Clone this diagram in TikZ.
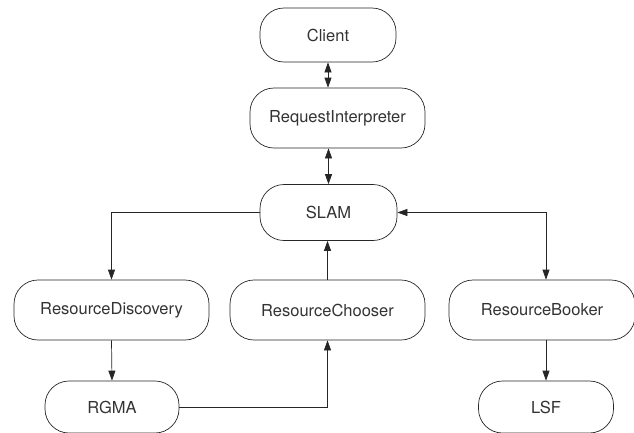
\documentclass[tikz,border=0pt]{standalone}
\usepackage{fontspec}
\setmainfont{TeX Gyre Heros}
\usetikzlibrary{arrows.meta}

\begin{document}
\begin{tikzpicture}[x=1pt, y=-1pt,
  box/.style={draw=black!85, line width=0.7pt, rounded corners=24pt, inner sep=0pt,
    minimum height=60pt, text=black!80, font=\fontsize{16.5}{19}\selectfont},
  link/.style={draw=black!85, line width=0.7pt, -{Triangle[length=10pt,width=7pt]}},
  both/.style={draw=black!85, line width=0.7pt, {Triangle[length=10pt,width=7pt]}-{Triangle[length=10pt,width=7pt]}}]
\useasboundingbox (0,0) rectangle (634,432);
\node[box, minimum width=136pt, minimum height=54pt] (client) at (328,35) {Client};
\node[box, minimum width=175pt] (ri) at (337.5,118) {RequestInterpreter};
\node[box, minimum width=137pt, minimum height=56pt] (slam) at (328.5,212.5) {SLAM};
\node[box, minimum width=195pt] (rd) at (111.5,310) {ResourceDiscovery};
\node[box, minimum width=195pt] (rc) at (327.5,310) {ResourceChooser};
\node[box, minimum width=186pt] (rb) at (542,310) {ResourceBooker};
\node[box, minimum width=134pt, minimum height=52pt] (rgma) at (112,407) {RGMA};
\node[box, minimum width=135pt, minimum height=52pt] (lsf) at (546,407) {LSF};
\draw[both] (client.south) -- (client.south |- ri.north);
\draw[both] (slam.north |- ri.south) -- (slam.north);
\draw[link] (slam.west) -| (rd.north);
\draw[link] (rd.south) -- (rgma.north);
\draw[link] (rgma.east) -| (rc.south);
\draw[link] (rc.north) -- (rc.north |- slam.south);
\draw[both] (slam.east) -| ([xshift=4pt]rb.north);
\draw[link] ([xshift=4pt]rb.south) -- (lsf.north);
\end{tikzpicture}
\end{document}
